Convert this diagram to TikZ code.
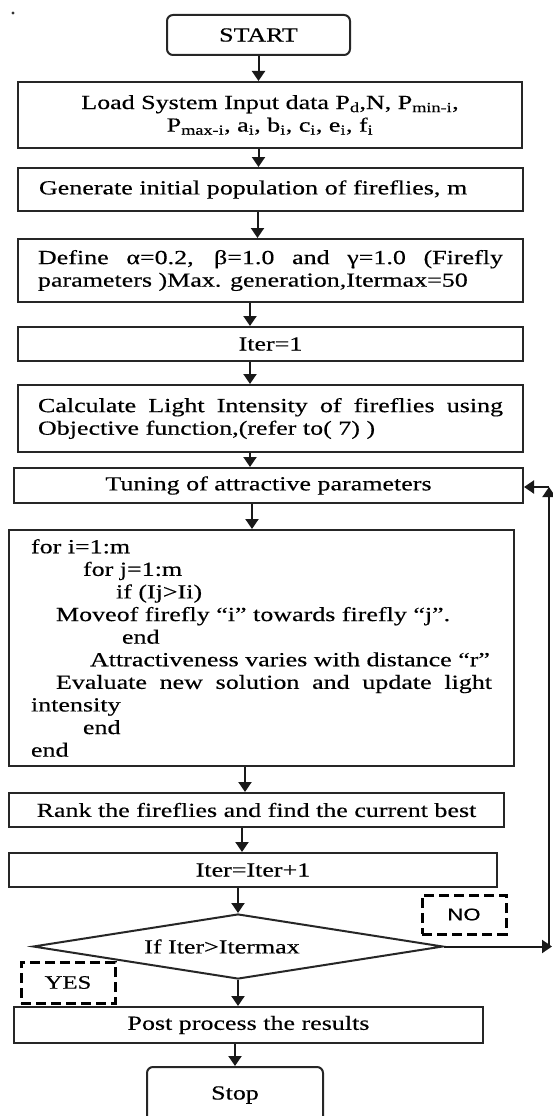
\documentclass[tikz,border=0pt]{standalone}
\usepackage{fontspec}
\setmainfont{Liberation Serif}[FakeStretch=1.3,FakeBold=0.4]
\newfontfamily\labsans{Liberation Sans}[FakeStretch=1.3,FakeBold=0.4]
\usetikzlibrary{shapes.geometric,arrows.meta,calc}
\newcommand\flowfont{\fontsize{20}{22.6}\selectfont}
\begin{document}
\begin{tikzpicture}[x=1pt,y=-1pt,
  box/.style={draw=black!85, line width=2pt, rectangle, inner sep=0pt, font=\flowfont, align=center},
  dashbox/.style={draw=black, line width=3pt, dash pattern=on 10pt off 5pt, inner sep=0pt, font=\flowfont},
  arr/.style={draw=black!90, line width=2pt, -{Triangle[width=13pt,length=10pt]}}]
\useasboundingbox (0,0) rectangle (553,1116);
\fill[black!80] (13,13) circle (1.6pt);

\node[box, minimum width=183pt, minimum height=40pt, rounded corners=6pt] (start) at (258.5,35) {START};
\node[box, minimum width=504pt, minimum height=66pt] (load) at (270,115)
  {Load System Input data P\textsubscript{d},N, P\textsubscript{min-i},\\ P\textsubscript{max-i}, a\textsubscript{i}, b\textsubscript{i}, c\textsubscript{i}, e\textsubscript{i}, f\textsubscript{i}};
\node[box, text width=463pt, inner xsep=21pt, minimum height=43pt, align=left] (gen) at (270.5,189.5) {Generate initial population of fireflies, m};
\node[box, text width=465pt, inner xsep=20pt, minimum height=63pt, align=justify] (def) at (270.5,270.5)
  {Define α=0.2, β=1.0 and γ=1.0 (Firefly\linebreak parameters )Max. generation,Itermax=50};
\node[box, minimum width=505pt, minimum height=34pt] (it1) at (270.5,344) {Iter=1};
\node[box, text width=465pt, inner xsep=20pt, minimum height=67pt, align=justify] (calc) at (270.5,418.5)
  {Calculate Light Intensity of fireflies using\linebreak Objective function,(refer to( 7) )};
\node[box, minimum width=509pt, minimum height=35pt] (tune) at (268.5,485.5) {Tuning of attractive parameters};
\node[box, text width=461pt, inner xsep=22pt, minimum height=236pt, align=justify] (loop) at (261.5,648)
  {for i=1:m\\
   \hspace*{52pt}for j=1:m\\
   \hspace*{85pt}if (Ij>Ii)\\
   \hspace*{25pt}Moveof firefly “i” towards firefly “j”.\\
   \hspace*{91pt}end\\
   \hspace*{59pt}Attractiveness varies with distance “r”\\
   \hspace*{25pt}Evaluate new solution and update light\linebreak intensity\\
   \hspace*{52pt}end\\
   end};
\node[box, minimum width=495pt, minimum height=34pt] (rank) at (256.5,810) {Rank the fireflies and find the current best};
\node[box, minimum width=488pt, minimum height=34pt] (it2) at (253,870) {Iter=Iter+1};
\node[box, diamond, aspect=6.3, minimum width=410pt, minimum height=65pt] (dec) at (238,946.5) {\hspace*{-32pt}If Iter>Itermax};
\node[dashbox, minimum width=84pt, minimum height=39pt, font=\labsans\fontsize{17}{20}\selectfont] (no) at (464,914.5) {NO};
\node[dashbox, minimum width=94pt, minimum height=41pt, font=\fontsize{19}{21}\selectfont] (yes) at (68,982.5) {YES};
\node[box, minimum width=469pt, minimum height=36pt] (post) at (248.5,1025) {Post process the results};
\node[box, rounded corners=6pt, minimum width=176pt, minimum height=56pt] (stop) at (235,1095) {Stop};

\draw[arr] (start.south) -- (start.south |- load.north);
\draw[arr] (start.south |- load.south) -- (start.south |- gen.north);
\draw[arr] ([xshift=-13pt]gen.south) -- ([xshift=-13pt]gen.south |- def.north);
\draw[arr] ([xshift=-20.5pt]def.south) -- ([xshift=-20.5pt]def.south |- it1.north);
\draw[arr] ([xshift=-20.5pt]it1.south) -- ([xshift=-20.5pt]it1.south |- calc.north);
\draw[arr] ([xshift=-20.5pt]calc.south) -- ([xshift=-20.5pt]calc.south |- tune.north);
\draw[arr] ([xshift=-16.5pt]tune.south) -- ([xshift=-16.5pt]tune.south |- loop.north);
\draw[arr] ([xshift=-16.5pt]loop.south) -- ([xshift=-16.5pt]loop.south |- rank.north);
\draw[arr] ([xshift=-14.5pt]rank.south) -- ([xshift=-14.5pt]rank.south |- it2.north);
\draw[arr] (dec.north |- it2.south) -- (dec.north);
\draw[arr] (dec.south) -- (dec.south |- post.north);
\draw[arr] (stop.north |- post.south) -- (stop.north);

\coordinate (c1) at (552,946.5);
\coordinate (c2) at (549,946.5);
\coordinate (c3) at (549,487);
\draw[arr] (dec.east) -- (c1);
\draw[arr] (c2) -- (c3);
\draw[arr] (c3) -- (c3 -| tune.east);
\end{tikzpicture}
\end{document}
